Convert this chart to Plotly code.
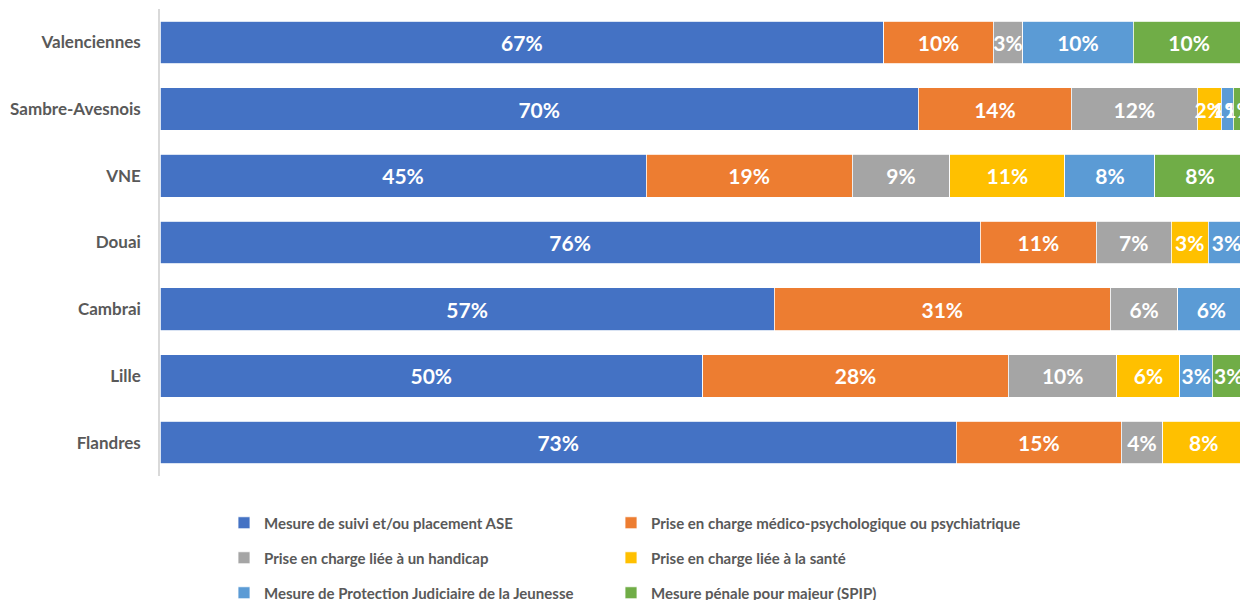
import plotly.graph_objects as go

categories = ["Valenciennes", "Sambre-Avesnois", "VNE", "Douai", "Cambrai", "Lille", "Flandres"]

series_names = [
    "Mesure de suivi et/ou placement ASE",
    "Prise en charge médico-psychologique ou psychiatrique",
    "Prise en charge liée à un handicap",
    "Prise en charge liée à la santé",
    "Mesure de Protection Judiciaire de la Jeunesse",
    "Mesure pénale pour majeur (SPIP)",
]

ase = [0.667, 0.699, 0.448, 0.756, 0.566, 0.500, 0.734]
medico = [0.101, 0.141, 0.190, 0.107, 0.310, 0.282, 0.152]
handicap = [0.027, 0.116, 0.090, 0.069, 0.062, 0.100, 0.038]
sante = [None, 0.022, 0.106, 0.034, None, 0.058, 0.076]
pjj = [0.102, 0.011, 0.083, 0.034, 0.062, 0.030, None]
spip = [0.103, 0.011, 0.083, None, None, 0.030, None]

series_values = [ase, medico, handicap, sante, pjj, spip]
colors = ["#4472C4", "#ED7D31", "#A5A5A5", "#FFC000", "#5B9BD5", "#70AD47"]

FONT = "Lato, 'Open Sans', sans-serif"

# the page body has an 8px margin, so the figure is sized to fit the 1248x600 window
W, H = 1240, 592

# legend grid: 2 columns x 3 rows, one legend per entry
legend_ids = ["legend", "legend2", "legend3", "legend4", "legend5", "legend6"]
col_x = [216, 603]
row_y = [515, 550, 585]

fig = go.Figure()
for name, vals, col, lg in zip(series_names, series_values, colors, legend_ids):
    fig.add_trace(go.Bar(
        y=categories, x=vals, name=name, orientation="h",
        marker=dict(color=col, line=dict(color="white", width=0.8)),
        texttemplate="%{x:.0%}", textposition="inside", insidetextanchor="middle",
        constraintext="none", textangle=0, cliponaxis=False,
        textfont=dict(family=FONT, size=21, color="white", weight="bold"),
        legend=lg, hoverinfo="skip",
    ))

legend_common = dict(
    orientation="v", xanchor="left", yanchor="middle",
    xref="container", yref="container",
    font=dict(family=FONT, size=15, color="#595959", weight="bold"),
    bgcolor="rgba(0,0,0,0)", itemclick=False, itemdoubleclick=False,
)

legends = {}
for i, lg in enumerate(legend_ids):
    legends[lg] = dict(legend_common, x=col_x[i % 2] / W, y=1 - row_y[i // 2] / H)

fig.update_layout(
    width=W, height=H,
    margin=dict(l=152, r=3, t=1, b=124, autoexpand=False),
    barmode="stack", bargap=0.36,
    plot_bgcolor="white", paper_bgcolor="white",
    xaxis=dict(range=[0, 1], showticklabels=False, showgrid=False, zeroline=False,
               showline=False, fixedrange=True, automargin=False),
    yaxis=dict(autorange="reversed", showline=True, linecolor="#D9D9D9", linewidth=1.5,
               ticks="outside", ticklen=14, tickcolor="rgba(0,0,0,0)", automargin=False,
               tickfont=dict(family=FONT, size=17, color="#595959", weight="bold"), fixedrange=True),
    showlegend=True,
    **legends,
)

fig.write_html("out.html")
